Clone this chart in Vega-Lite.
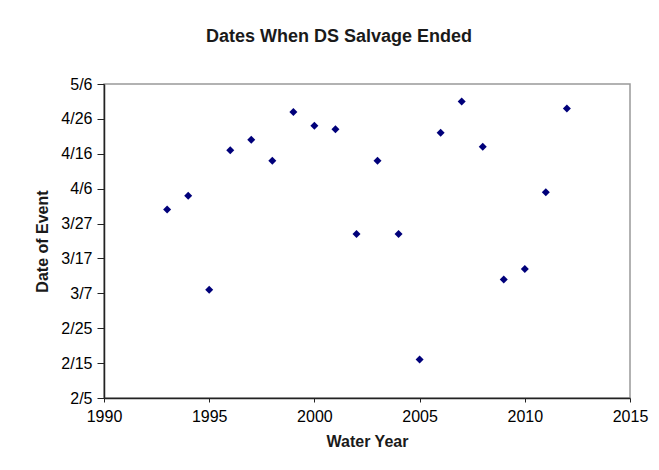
{
  "$schema": "https://vega.github.io/schema/vega-lite/v6.json",
  "width": 526,
  "height": 314,
  "autosize": "none",
  "padding": {"left": 104, "top": 84, "right": 29, "bottom": 72},
  "background": "white",
  "title": {
    "text": "Dates When DS Salvage Ended",
    "font": "Liberation Sans",
    "fontSize": 18,
    "fontWeight": "bold",
    "color": "#1a1a1a",
    "baseline": "alphabetic",
    "offset": 16,
    "dx": -28
  },
  "config": {
    "view": {"stroke": "#999999", "strokeWidth": 1.5},
    "axis": {
      "labelFont": "Liberation Sans",
      "titleFont": "Liberation Sans",
      "labelColor": "#000000",
      "titleColor": "#1a1a1a",
      "domainColor": "#222222",
      "domainWidth": 1.5,
      "tickColor": "#222222",
      "grid": false,
      "labelFlush": false
    }
  },
  "data": {
    "values": [
      {"year": 1993, "date": "2001-03-31"},
      {"year": 1994, "date": "2001-04-04"},
      {"year": 1995, "date": "2001-03-08"},
      {"year": 1996, "date": "2001-04-17"},
      {"year": 1997, "date": "2001-04-20"},
      {"year": 1998, "date": "2001-04-14"},
      {"year": 1999, "date": "2001-04-28"},
      {"year": 2000, "date": "2001-04-24"},
      {"year": 2001, "date": "2001-04-23"},
      {"year": 2002, "date": "2001-03-24"},
      {"year": 2003, "date": "2001-04-14"},
      {"year": 2004, "date": "2001-03-24"},
      {"year": 2005, "date": "2001-02-16"},
      {"year": 2006, "date": "2001-04-22"},
      {"year": 2007, "date": "2001-05-01"},
      {"year": 2008, "date": "2001-04-18"},
      {"year": 2009, "date": "2001-03-11"},
      {"year": 2010, "date": "2001-03-14"},
      {"year": 2011, "date": "2001-04-05"},
      {"year": 2012, "date": "2001-04-29"}
    ]
  },
  "mark": {"type": "point", "shape": "diamond", "filled": true, "size": 64, "color": "#00007a", "opacity": 1},
  "encoding": {
    "x": {
      "field": "year",
      "type": "quantitative",
      "title": "Water Year",
      "scale": {"domain": [1990, 2015], "nice": false, "zero": false},
      "axis": {
        "values": [1990, 1995, 2000, 2005, 2010, 2015],
        "format": "d",
        "labelFontSize": 16,
        "titleFontSize": 16,
        "titleFontWeight": "bold",
        "tickSize": 4,
        "labelPadding": 6,
        "titlePadding": 9
      }
    },
    "y": {
      "field": "date",
      "type": "temporal",
      "title": "Date of Event",
      "scale": {
        "type": "utc",
        "domain": [
          {"year": 2001, "month": 2, "date": 5, "utc": true},
          {"year": 2001, "month": 5, "date": 6, "utc": true}
        ],
        "nice": false
      },
      "axis": {
        "values": [
          {"year": 2001, "month": 2, "date": 5, "utc": true},
          {"year": 2001, "month": 2, "date": 15, "utc": true},
          {"year": 2001, "month": 2, "date": 25, "utc": true},
          {"year": 2001, "month": 3, "date": 7, "utc": true},
          {"year": 2001, "month": 3, "date": 17, "utc": true},
          {"year": 2001, "month": 3, "date": 27, "utc": true},
          {"year": 2001, "month": 4, "date": 6, "utc": true},
          {"year": 2001, "month": 4, "date": 16, "utc": true},
          {"year": 2001, "month": 4, "date": 26, "utc": true},
          {"year": 2001, "month": 5, "date": 6, "utc": true}
        ],
        "format": "%-m/%-d",
        "labelFontSize": 16,
        "titleFontSize": 16,
        "titleFontWeight": "bold",
        "tickSize": 7,
        "labelPadding": 5,
        "titlePadding": 10
      }
    }
  }
}
